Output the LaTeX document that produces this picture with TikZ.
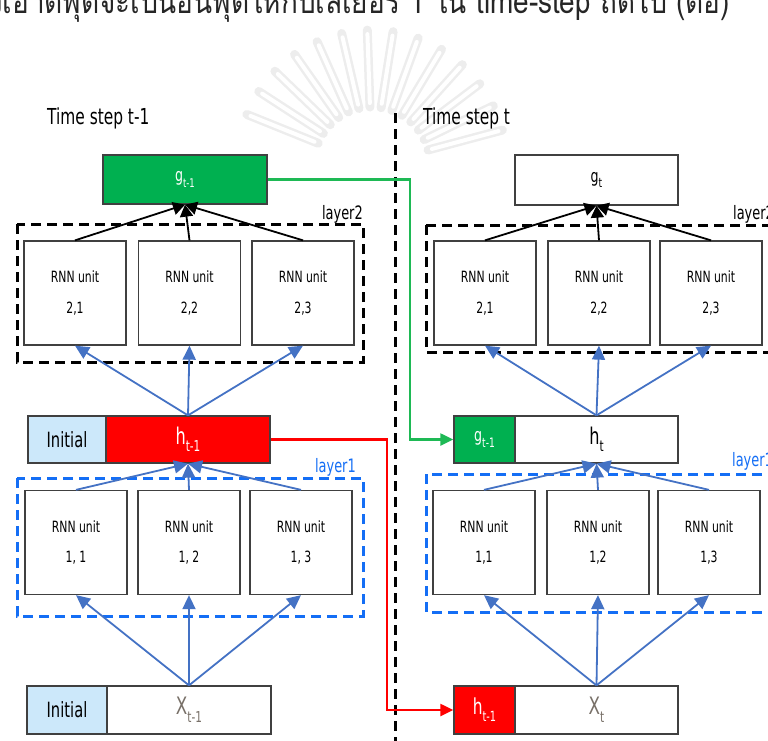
\documentclass[tikz,border=0pt]{standalone}
\usepackage{fontspec}
\setmainfont{DejaVu Sans}[FakeStretch=0.7]
\newfontfamily\thaifont[Script=Thai,FakeStretch=0.82]{Loma}
\usetikzlibrary{arrows.meta}
\definecolor{gbox}{RGB}{0,176,80}
\definecolor{rbox}{RGB}{255,0,0}
\definecolor{lblue}{RGB}{204,232,250}
\definecolor{abl}{RGB}{68,114,196}
\definecolor{dblue}{RGB}{20,110,245}
\definecolor{bord}{RGB}{64,64,64}
\definecolor{xgray}{RGB}{120,112,104}
\definecolor{gline}{RGB}{30,185,85}
\newcommand{\fs}[1]{\fontsize{#1}{#1}\selectfont}
\newcommand{\mysub}[2]{\raisebox{-0.32em}{\fs{#1}#2}}
\begin{document}
\begin{tikzpicture}[x=1pt,y=-1pt,
  box/.style={draw=bord,line width=1.3pt,fill=white,inner sep=0pt,align=center},
  unitbox/.style={box,minimum width=102pt,minimum height=104pt,font=\fontsize{15.5}{31}\selectfont},
  barpart/.style={box,minimum height=47pt},
  blackarr/.style={draw=black,line width=1.8pt,-{Triangle[length=12pt,width=13pt]}},
  bluearr/.style={draw=abl,line width=1.8pt,-{Triangle[length=14pt,width=13pt]}},
  grouplayer/.style={line width=3pt,dash pattern=on 10pt off 6pt},
  conn/.style={line width=2.2pt,-{Triangle[length=13pt,width=12pt]}},
  lbl/.style={font=\fs{18.5},inner sep=0pt},
  ttl/.style={font=\fs{22},inner sep=0pt,anchor=base west}
]
\useasboundingbox (0,0) rectangle (768,740);

% faint watermark rays
\foreach \a in {15,26,...,165}{
  \draw[gray!14,line width=9pt,line cap=round] (372,165) ++(-\a:58) -- ++(-\a:77);
  \draw[white,line width=4pt,line cap=round] (372,165) ++(-\a:62) -- ++(-\a:69);
}

% Thai caption (top cropped)
\node[anchor=base east,inner sep=0pt,font=\thaifont\fs{34},text=black!85] (cap) at (730,13)
  {ผลลัพธ์ของเลเยอร์สุดท้ายในแต่ละช่วงเวลา ตัวเอาต์พุตจะเป็นอินพุตให้กับเลเยอร์ 1 ใน time-step ถัดไป (ต่อ)};

% time divider
\coordinate (vtop) at (395,113);
\coordinate (vbot) at (395,742);
\draw[black,line width=3pt,dash pattern=on 10pt off 6pt] (vtop) -- (vbot);

% titles
\node[ttl] (tl) at (47,124) {Time step t-1};
\node[ttl] (tr) at (423,124) {Time step t};

% group frames
\draw[grouplayer,black] (17,224) rectangle (363,362);
\draw[grouplayer,dblue] (17,478) rectangle (363,616);
\draw[grouplayer,black] (426,225) rectangle (776,352);
\draw[grouplayer,dblue] (426,474) rectangle (776,612);
\node[lbl,anchor=base east] (l2a) at (363,219) {layer2};
\node[lbl,anchor=base east,text=dblue] (l1a) at (356,472) {layer1};
\node[lbl,anchor=base west] (l2b) at (733,219) {layer2};
\node[lbl,anchor=base west,text=dblue] (l1b) at (732,466) {layer1};

% ===== left column (t-1)
\node[box,fill=gbox,minimum width=164pt,minimum height=49pt,text=white,font=\fs{18}] (gprev) at (185,179.5) {g\mysub{12}{t-1}};
\node[unitbox] (a21) at (75,293) {RNN unit\\2,1};
\node[unitbox] (a22) at (189.5,293) {RNN unit\\2,2};
\node[unitbox] (a23) at (303,293) {RNN unit\\2,3};
\node[barpart,fill=lblue,minimum width=78pt,font=\fs{21}] (ainit1) at (67,439.5) {Initial};
\node[barpart,fill=rbox,minimum width=164pt,text=white,font=\fs{23}] (hprev) at (188,439.5) {h\mysub{15}{t-1}};
\node[unitbox] (a11) at (76,542.5) {RNN unit\\1, 1};
\node[unitbox] (a12) at (189,542.5) {RNN unit\\1, 2};
\node[unitbox] (a13) at (301,542.5) {RNN unit\\1, 3};
\node[barpart,fill=lblue,minimum width=80pt,minimum height=48pt,font=\fs{21}] (ainit2) at (67,710) {Initial};
\node[barpart,minimum width=164pt,minimum height=48pt,text=xgray,font=\fs{24}] (xprev) at (189,710) {X\mysub{15}{t-1}};

% ===== right column (t)
\node[box,minimum width=163pt,minimum height=50pt,font=\fs{18}] (gcur) at (596.5,180) {g\mysub{13}{t}};
\node[unitbox] (b21) at (485,293) {RNN unit\\2,1};
\node[unitbox] (b22) at (599,293) {RNN unit\\2,2};
\node[unitbox] (b23) at (711,293) {RNN unit\\2,3};
\node[barpart,fill=gbox,minimum width=61pt,text=white,font=\fs{18}] (gin) at (484.5,439.5) {g\mysub{13}{t-1}};
\node[barpart,minimum width=163pt,font=\fs{23}] (hcur) at (596.5,439.5) {h\mysub{15}{t}};
\node[unitbox] (b11) at (484,542.5) {RNN unit\\1,1};
\node[unitbox] (b12) at (598,542.5) {RNN unit\\1,2};
\node[unitbox] (b13) at (709,542.5) {RNN unit\\1,3};
\node[barpart,fill=rbox,minimum width=61pt,minimum height=48pt,text=white,font=\fs{22}] (hin) at (484.5,710) {h\mysub{14}{t-1}};
\node[barpart,minimum width=163pt,minimum height=48pt,text=xgray,font=\fs{24}] (xcur) at (596.5,710) {X\mysub{15}{t}};

% ===== arrows left
\foreach \u in {a21,a22,a23}{\draw[blackarr] (\u.north) -- (gprev.south);}
\foreach \u in {a21,a22,a23}{\draw[bluearr] (hprev.north) -- (\u.south);}
\foreach \u in {a11,a12,a13}{\draw[bluearr] (\u.north) -- (hprev.south);}
\foreach \u in {a11,a12,a13}{\draw[bluearr] (xprev.north) -- (\u.south);}

% ===== arrows right
\foreach \u in {b21,b22,b23}{\draw[blackarr] (\u.north) -- (gcur.south);}
\foreach \u in {b21,b22,b23}{\draw[bluearr] (hcur.north) -- (\u.south);}
\foreach \u in {b11,b12,b13}{\draw[bluearr] (\u.north) -- (hcur.south);}
\foreach \u in {b11,b12,b13}{\draw[bluearr] (xcur.north) -- (\u.south);}

% ===== cross-time connectors
\coordinate (gx) at (410,300);
\coordinate (rx) at (387,600);
\draw[conn,draw=gline] (gprev.east) -| (gx) |- (gin.west);
\draw[conn,draw=rbox] (hprev.east) -| (rx) |- (hin.west);
\end{tikzpicture}
\end{document}
